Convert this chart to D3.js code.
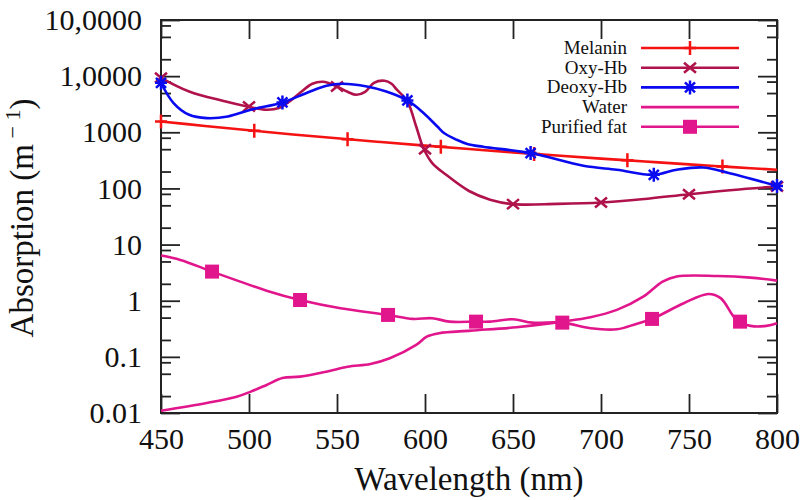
<!DOCTYPE html>
<html><head><meta charset="utf-8">
<script src="https://cdn.jsdelivr.net/npm/d3@7"></script>
</head><body style="margin:0;background:#fff">
<svg id="c" width="801" height="500"></svg>
<script>
const xTicks=[450,500,550,600,650,700,750,800];
const yTicks=[0.01,0.1,1,10,100,1000,10000,100000];
const yTickLabels=["0.01","0.1","1","10","100","1000","1,0000","10,0000"];
const yMinorTicks=[0.02,0.05,0.08,0.2,0.5,0.8,2,5,8,20,50,80,200,500,800,2000,5000,8000,20000,50000,80000];
const seriesNames=["Melanin","Oxy-Hb","Deoxy-Hb","Water","Purified fat"];

const melanin=[[450,1560],[475,1294],[500,1084],[525,916],[550,781],[575,670],[600,578],[625,503],[650,439],[675,385],[700,340],[725,302],[750,268],[775,240],[800,215]];
const melaninMarks=[[450,1560],[503,1062],[556,752],[609,550],[662,412],[715,316],[769,246]];

const oxyHb=[[450,9350],[466,5330],[485,3640],[499,2884],[510,2520],[517,2700],[523,3540],[529,5060],[536,7310],[542,7940],[550,6550],[556,5270],[561,4660],[566,5250],[571,7620],[577,8280],[581,7310],[584,5730],[590,3540],[595,1268],[599,530],[604,286],[612,175],[625,90],[637,63],[650,52.5],[675,53],[700,56],[725,65],[750,79],[775,94],[800,108]];
const oxyHbMarks=[[450,9350],[500,2884],[550,6550],[600,500],[650,52.5],[700,56],[750,79],[800,108]];

const deoxyHb=[[450,7620],[457,3357],[466,2050],[476,1790],[488,1915],[501,2520],[519,3395],[533,5060],[544,6745],[553,7310],[567,6550],[578,5330],[590,3690],[599,2230],[607,1268],[611,960],[618,735],[624,620],[633,552],[660,426],[690,253],[709,215],[730,175],[743,215],[758,236],[772,190],[800,111]];
const deoxyHbMarks=[[450,7620],[519,3395],[590,3690],[660,426],[730,175],[800,111]];

const water=[[450,0.011],[476,0.0151],[493,0.0195],[501,0.024],[510,0.0316],[519,0.042],[529,0.0444],[544,0.0545],[556,0.0669],[569,0.0747],[580,0.0944],[595,0.163],[601,0.229],[608,0.264],[626,0.293],[652,0.337],[678,0.424],[694,0.508],[709,0.686],[724,1.18],[735,2.19],[743,2.70],[766,2.75],[785,2.58],[800,2.28]];

const fat=[[450,6.37],[461,5.33],[479,3.30],[495,2.19],[510,1.51],[529,1.03],[552,0.734],[579,0.558],[593,0.474],[604,0.488],[614,0.424],[629,0.424],[637,0.424],[650,0.468],[661,0.407],[678,0.407],[694,0.324],[709,0.310],[720,0.386],[729,0.474],[747,0.902],[761,1.32],[768,1.11],[777,0.455],[785,0.356],[794,0.356],[800,0.397]];
const fatMarks=[[479,3.30],[529,1.03],[579,0.558],[629,0.424],[678,0.407],[729,0.474],[779,0.424]];

const colors={mel:"#f51212",oxy:"#b0124c",deoxy:"#0a0af0",water:"#e2168c",fat:"#e2168c"};
const FONT="Liberation Serif";

const L=161,R=777,T=20,B=413;
const svg=d3.select("#c");
const x=d3.scaleLinear().domain([450,800]).range([L,R]);
const y=d3.scaleLog().domain([0.01,100000]).range([B,T]);

const axStyle=g=>{g.select(".domain").remove();g.selectAll(".tick line").attr("stroke","#222").attr("stroke-width",1.8);};
const lab=g=>g.selectAll("text").attr("font-size",30).attr("fill","#111");
svg.append("g").attr("transform",`translate(0,${B})`)
 .call(d3.axisBottom(x).tickValues(xTicks).tickSize(-19).tickPadding(15).tickFormat(d3.format("d")))
 .call(axStyle).call(lab);
svg.append("g").attr("transform",`translate(0,${T})`)
 .call(d3.axisTop(x).tickValues(xTicks).tickSize(-19).tickFormat(""))
 .call(axStyle);
svg.append("g").attr("transform",`translate(${L},0)`)
 .call(d3.axisLeft(y).tickValues(yTicks).tickSize(-19).tickPadding(19).tickFormat((d,i)=>yTickLabels[i]))
 .call(axStyle).call(lab);
svg.append("g").attr("transform",`translate(${L},0)`)
 .call(d3.axisLeft(y).tickValues(yMinorTicks).tickSize(-10).tickFormat(""))
 .call(axStyle);
svg.append("g").attr("transform",`translate(${R},0)`)
 .call(d3.axisRight(y).tickValues(yTicks).tickSize(-19).tickFormat(""))
 .call(axStyle);
svg.append("g").attr("transform",`translate(${R},0)`)
 .call(d3.axisRight(y).tickValues(yMinorTicks).tickSize(-10).tickFormat(""))
 .call(axStyle);

svg.append("rect").attr("x",L).attr("y",T).attr("width",R-L).attr("height",B-T)
 .attr("fill","none").attr("stroke","#222").attr("stroke-width",2);

const line=d3.line().x(d=>x(d[0])).y(d=>y(d[1])).curve(d3.curveCatmullRom.alpha(0.5));
const plot=svg.append("g");

function marker(g,type,cx,cy,color){
  const s=6;
  if(type==="plus"){
    g.append("path").attr("d",`M${cx-s},${cy}H${cx+s}M${cx},${cy-s-1}V${cy+s+1}`).attr("stroke",color).attr("stroke-width",2.5).attr("fill","none");
  }else if(type==="cross"){
    g.append("path").attr("d",`M${cx-s},${cy-5}L${cx+s},${cy+5}M${cx-s},${cy+5}L${cx+s},${cy-5}`).attr("stroke",color).attr("stroke-width",2.5).attr("fill","none");
  }else if(type==="star"){
    g.append("path").attr("d",`M${cx-s},${cy}H${cx+s}M${cx},${cy-s-1}V${cy+s+1}M${cx-5},${cy-5}L${cx+5},${cy+5}M${cx-5},${cy+5}L${cx+5},${cy-5}`).attr("stroke",color).attr("stroke-width",2.5).attr("fill","none");
  }else if(type==="square"){
    g.append("rect").attr("x",cx-7).attr("y",cy-7).attr("width",14).attr("height",14).attr("fill",color);
  }
}

const series=[
 {name:seriesNames[0],data:melanin,marks:melaninMarks,color:colors.mel,type:"plus"},
 {name:seriesNames[1],data:oxyHb,marks:oxyHbMarks,color:colors.oxy,type:"cross"},
 {name:seriesNames[2],data:deoxyHb,marks:deoxyHbMarks,color:colors.deoxy,type:"star"},
 {name:seriesNames[3],data:water,marks:[],color:colors.water,type:null},
 {name:seriesNames[4],data:fat,marks:fatMarks,color:colors.fat,type:"square"}
];
[3,4,0,1,2].forEach(i=>{
  const s=series[i];
  plot.append("path").datum(s.data).attr("d",line).attr("fill","none").attr("stroke",s.color).attr("stroke-width",2.6);
  s.marks.forEach(m=>marker(plot,s.type,x(m[0]),y(m[1]),s.color));
});

const lg=svg.append("g");
series.forEach((s,i)=>{
  const cy=48+i*19.7;
  lg.append("text").attr("x",627).attr("y",cy+6).attr("text-anchor","end").attr("font-size",19).attr("fill","#111").text(s.name);
  lg.append("line").attr("x1",641).attr("x2",739).attr("y1",cy).attr("y2",cy).attr("stroke",s.color).attr("stroke-width",2.6);
  if(s.type) marker(lg,s.type,690,cy,s.color);
});

svg.append("text").attr("x",469).attr("y",490).attr("text-anchor","middle").attr("font-size",33).attr("fill","#111").text("Wavelength (nm)");
const yt=svg.append("text").attr("transform","translate(33,218) rotate(-90)").attr("text-anchor","middle").attr("font-size",33).attr("fill","#111");
yt.append("tspan").text("Absorption (m");
yt.append("tspan").attr("dy",-13).attr("font-size",22).text(" \u2212 1");
yt.append("tspan").attr("dy",13).text(")");

svg.selectAll("g").attr("font-family",null);
svg.selectAll("text").attr("font-family",FONT);
</script>
</body></html>
